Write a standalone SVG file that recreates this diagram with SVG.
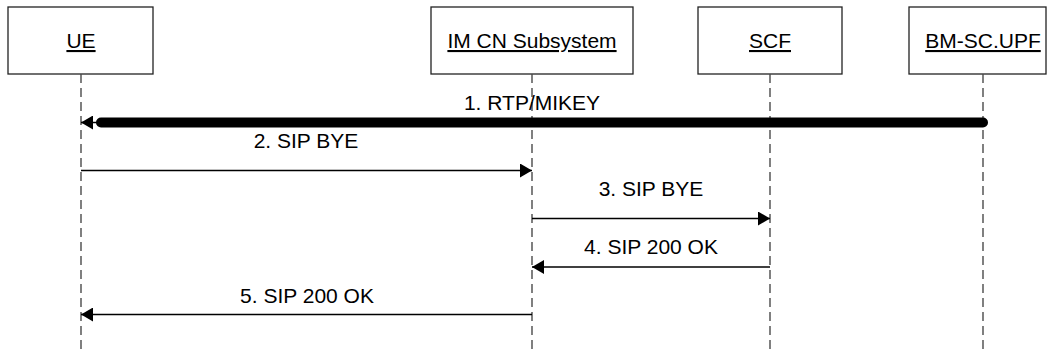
<svg xmlns="http://www.w3.org/2000/svg" width="1047" height="352" viewBox="0 0 1047 352">
<defs>
<style>
.box{fill:#fff;stroke:#222;stroke-width:1.3}
.lbl{font-family:"Liberation Sans",Arial,sans-serif;font-size:21px;fill:#000;text-anchor:middle}
.nl{text-decoration:underline}
.life{stroke:#4a4a4a;stroke-width:1.4;stroke-dasharray:9 5;fill:none}
.msg{stroke:#000;stroke-width:1.5;fill:none}
.thick{stroke:#000;stroke-width:10;stroke-linecap:round;fill:none}
</style>
<marker id="ah" viewBox="0 0 12 14" refX="12" refY="7" markerWidth="12" markerHeight="14" markerUnits="userSpaceOnUse" orient="auto">
<path d="M0,0 L12,7 L0,14 Z" fill="#000"/>
</marker>
</defs>
<rect width="1047" height="352" fill="#fff"/>
<g id="node-ue">
<rect class="box" x="8" y="7" width="145" height="67"/>
<text class="lbl nl" x="81" y="48">UE</text>
</g>
<g id="node-imcn">
<rect class="box" x="431" y="7" width="202" height="67"/>
<text class="lbl nl" x="532" y="48">IM CN Subsystem</text>
</g>
<g id="node-scf">
<rect class="box" x="698" y="7" width="144" height="67"/>
<text class="lbl nl" x="770" y="48">SCF</text>
</g>
<g id="node-bmsc">
<rect class="box" x="909" y="7" width="137" height="67"/>
<text class="lbl nl" x="983" y="48">BM-SC.UPF</text>
</g>
<g id="lifelines">
<line class="life" x1="81" y1="74" x2="81" y2="352"/>
<line class="life" x1="532" y1="74" x2="532" y2="352"/>
<line class="life" x1="770" y1="74" x2="770" y2="352"/>
<line class="life" x1="983" y1="74" x2="983" y2="352"/>
</g>
<g id="connectors">
<line class="thick" x1="983" y1="122.5" x2="101" y2="122.5"/>
<line class="msg" x1="101" y1="122.5" x2="81" y2="122.5" marker-end="url(#ah)"/>
<text class="lbl" x="532" y="110">1. RTP/MIKEY</text>
<line class="msg" x1="81" y1="170.5" x2="532" y2="170.5" marker-end="url(#ah)"/>
<text class="lbl" x="306" y="148">2. SIP BYE</text>
<line class="msg" x1="532" y1="218.5" x2="770" y2="218.5" marker-end="url(#ah)"/>
<text class="lbl" x="651" y="196">3. SIP BYE</text>
<line class="msg" x1="770" y1="267" x2="532" y2="267" marker-end="url(#ah)"/>
<text class="lbl" x="651" y="253.5">4. SIP 200 OK</text>
<line class="msg" x1="532" y1="314.5" x2="81" y2="314.5" marker-end="url(#ah)"/>
<text class="lbl" x="307" y="302.5">5. SIP 200 OK</text>
</g>
</svg>
